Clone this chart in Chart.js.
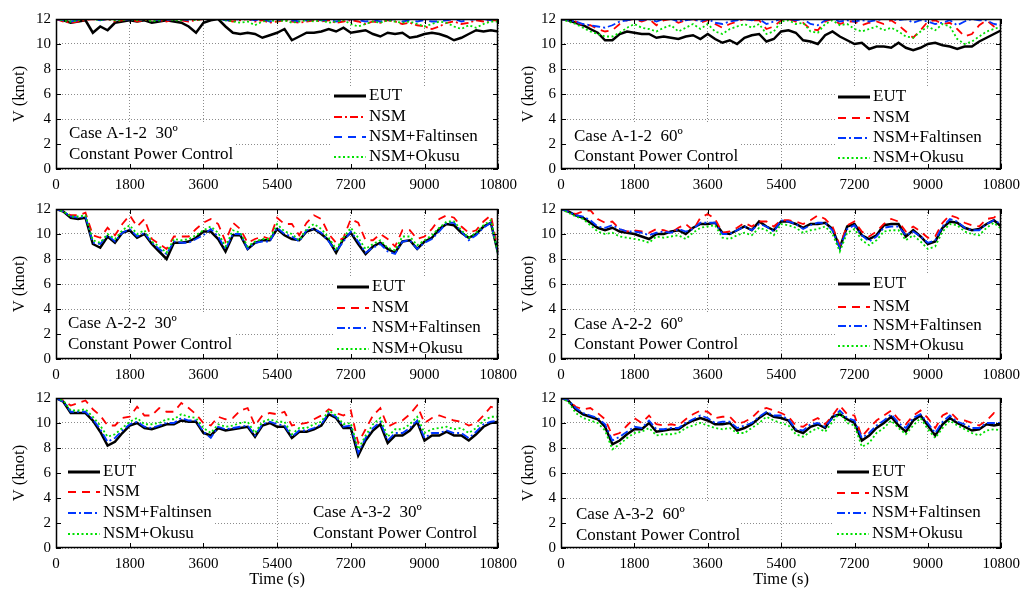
<!DOCTYPE html>
<html>
<head>
<meta charset="utf-8">
<script src="https://cdn.jsdelivr.net/npm/chart.js@4.4.0/dist/chart.umd.min.js"></script>
<style>
  body { margin: 0; background: #fff; }
  #wrap { position: relative; width: 1029px; height: 599px; overflow: hidden; background: #fff; }
  canvas { position: absolute; }
</style>
</head>
<body>
<div id="wrap">
  <canvas id="c1" width="524" height="199" style="left:0px;top:5px"></canvas>
  <canvas id="c2" width="518" height="199" style="left:509px;top:5px"></canvas>
  <canvas id="c3" width="524" height="199" style="left:0px;top:195px"></canvas>
  <canvas id="c4" width="518" height="199" style="left:509px;top:195px"></canvas>
  <canvas id="c5" width="524" height="216" style="left:0px;top:384px"></canvas>
  <canvas id="c6" width="518" height="216" style="left:509px;top:384px"></canvas>
</div>
<script>
// time grid (s)
var times = [0, 180, 360, 540, 720, 900, 1080, 1260, 1440, 1620, 1800,
  1980, 2160, 2340, 2520, 2700, 2880, 3060, 3240, 3420, 3600,
  3780, 3960, 4140, 4320, 4500, 4680, 4860, 5040, 5220, 5400,
  5580, 5760, 5940, 6120, 6300, 6480, 6660, 6840, 7020, 7200,
  7380, 7560, 7740, 7920, 8100, 8280, 8460, 8640, 8820, 9000,
  9180, 9360, 9540, 9720, 9900, 10080, 10260, 10440, 10620, 10800];
var xTicks = [0, 1800, 3600, 5400, 7200, 9000, 10800];
var yTicks = [0, 2, 4, 6, 8, 10, 12];
var seriesNames = ['EUT', 'NSM', 'NSM+Faltinsen', 'NSM+Okusu'];

// Case A-1-2 30
var eutA12_30 = [12.0, 11.9, 11.7, 11.8, 11.9, 10.9, 11.4, 11.1, 11.7, 11.8, 11.9,
  11.8, 11.9, 11.7, 11.8, 11.9, 11.8, 11.7, 11.4, 10.9, 11.7,
  11.9, 12.0, 11.4, 10.9, 10.8, 10.9, 10.8, 10.5, 10.7, 10.9,
  11.2, 10.3, 10.6, 10.9, 10.9, 11.0, 11.2, 11.0, 11.3, 10.9,
  11.0, 11.1, 10.8, 10.6, 10.9, 10.8, 10.9, 10.5, 10.6, 10.8,
  10.9, 10.8, 10.6, 10.3, 10.5, 10.8, 11.1, 11.0, 11.1, 11.0];
var nsmA12_30 = [12.0, 11.8, 11.7, 11.8, 11.9, 12.0, 11.9, 12.0, 11.8, 11.9, 12.0,
  11.8, 11.9, 12.0, 11.9, 11.8, 12.0, 11.9, 11.8, 11.9, 12.0,
  12.0, 12.1, 11.9, 11.8, 11.9, 12.0, 11.8, 11.9, 11.7, 11.8,
  11.9, 11.8, 11.7, 11.8, 11.9, 11.8, 11.9, 11.7, 11.8, 11.9,
  11.8, 11.6, 11.8, 11.7, 11.9, 11.8, 11.6, 11.7, 11.5, 11.4,
  11.2, 11.4, 11.7, 11.8, 11.6, 11.7, 11.9, 11.8, 11.9, 11.9];
var falA12_30 = [12.0, 11.9, 11.8, 11.9, 12.0, 12.0, 11.9, 12.0, 12.0, 11.9, 12.0,
  11.9, 12.0, 12.0, 11.9, 11.9, 12.0, 12.0, 11.9, 12.0, 12.0,
  12.0, 12.0, 11.9, 11.9, 12.0, 12.0, 11.9, 12.0, 11.8, 11.9,
  12.0, 11.9, 11.8, 11.9, 12.0, 11.9, 11.9, 11.8, 11.9, 12.0,
  11.9, 11.8, 11.9, 11.8, 11.9, 12.0, 11.8, 11.9, 11.8, 11.9,
  11.8, 11.8, 11.9, 12.0, 11.8, 11.9, 12.0, 12.0, 11.9, 12.0];
var okuA12_30 = [12.0, 11.9, 11.8, 11.9, 12.0, 12.0, 11.9, 12.0, 11.9, 11.9, 12.0,
  11.9, 12.0, 11.8, 11.9, 12.0, 11.9, 11.9, 12.0, 11.9, 12.0,
  12.0, 12.0, 11.9, 11.8, 11.7, 11.8, 11.5, 11.8, 11.9, 11.8,
  11.9, 11.7, 11.8, 11.9, 11.8, 11.9, 11.7, 11.8, 11.9, 11.6,
  11.4, 11.6, 11.8, 11.7, 11.9, 11.8, 11.7, 11.8, 11.6, 11.4,
  11.6, 11.8, 11.7, 11.4, 11.2, 11.5, 11.3, 11.6, 11.8, 11.8];

// Case A-1-2 60
var eutA12_60 = [12.0, 11.9, 11.7, 11.5, 11.2, 10.9, 10.3, 10.3, 10.8, 11.0, 10.9,
  10.8, 10.8, 10.5, 10.6, 10.5, 10.4, 10.6, 10.7, 10.4, 10.8,
  10.4, 10.1, 10.3, 10.0, 10.5, 10.7, 10.8, 10.2, 10.4, 11.0,
  11.1, 10.9, 10.3, 10.2, 10.0, 10.7, 11.0, 10.6, 10.3, 10.0,
  10.1, 9.6, 9.8, 9.8, 9.7, 10.1, 9.7, 9.5, 9.7, 10.0,
  10.1, 9.9, 9.8, 9.6, 9.8, 9.8, 10.2, 10.5, 10.8, 11.1];
var nsmA12_60 = [12.0, 11.9, 11.8, 11.5, 11.5, 11.2, 11.0, 11.1, 11.6, 11.9, 12.0,
  11.8, 12.0, 11.5, 11.9, 12.0, 11.7, 11.9, 12.0, 11.7, 11.9,
  11.6, 11.3, 11.6, 11.8, 12.0, 11.9, 11.9, 11.2, 11.4, 11.9,
  12.0, 11.8, 11.7, 11.2, 11.1, 11.8, 12.0, 11.6, 11.8, 11.8,
  11.5, 11.7, 11.8, 11.6, 11.9, 11.5, 11.0, 10.5, 11.1, 11.8,
  11.9, 11.6, 11.7, 11.2, 10.6, 10.8, 11.5, 11.9, 11.4, 11.6];
var falA12_60 = [12.0, 11.9, 11.8, 11.6, 11.5, 11.4, 11.3, 11.5, 11.8, 11.9, 12.0,
  11.9, 12.0, 11.8, 12.0, 12.0, 11.8, 11.9, 12.0, 11.8, 12.0,
  11.7, 11.6, 11.8, 11.9, 12.0, 11.9, 12.0, 11.6, 11.8, 12.0,
  12.0, 11.9, 12.0, 11.6, 11.5, 11.9, 12.0, 11.8, 11.9, 11.8,
  11.9, 11.8, 11.9, 12.0, 12.0, 11.9, 12.0, 11.7, 11.9, 11.8,
  11.6, 11.7, 11.9, 11.5, 11.8, 12.0, 11.9, 11.9, 11.6, 11.5];
var okuA12_60 = [12.0, 11.8, 11.6, 11.3, 11.0, 10.8, 10.6, 10.6, 10.9, 11.3, 11.6,
  11.3, 11.2, 11.0, 11.3, 11.5, 11.0, 11.3, 11.6, 11.2, 11.6,
  11.0, 10.8, 11.2, 11.4, 11.6, 11.3, 11.6, 10.8, 11.0, 11.8,
  11.9, 11.6, 11.7, 11.0, 10.9, 11.6, 11.9, 11.5, 11.6, 11.2,
  11.0, 11.2, 11.4, 11.1, 11.3, 11.0, 10.6, 10.5, 11.0, 11.4,
  11.1, 11.6, 11.4, 10.4, 10.0, 10.2, 10.6, 11.0, 11.2, 11.4];

// Case A-2-2 30
var eutA22_30 = [12.0, 11.8, 11.3, 11.2, 11.3, 9.2, 8.9, 9.8, 9.3, 10.1, 10.3,
  9.7, 10.0, 9.2, 8.6, 8.0, 9.3, 9.3, 9.4, 9.7, 10.2,
  10.2, 9.6, 8.6, 9.9, 9.9, 8.8, 9.3, 9.5, 9.5, 10.4,
  9.9, 9.6, 9.5, 10.2, 10.4, 10.0, 9.5, 8.5, 9.6, 10.1,
  9.2, 8.4, 9.0, 9.3, 8.8, 8.5, 9.4, 9.5, 8.8, 9.4,
  9.7, 10.4, 10.8, 10.7, 10.1, 9.7, 10.0, 10.6, 10.9, 8.4];
var nsmA22_30 = [12.0, 11.8, 11.5, 11.5, 11.7, 9.9, 9.7, 10.5, 9.9, 10.8, 11.5,
  10.6, 11.2, 9.6, 9.2, 8.8, 9.8, 9.8, 9.8, 10.4, 10.9,
  11.2, 10.8, 9.4, 10.9, 10.4, 9.3, 9.6, 9.8, 9.6, 11.3,
  10.8, 10.8, 9.9, 10.9, 11.5, 11.2, 10.0, 9.3, 9.7, 11.2,
  10.9, 9.5, 9.5, 10.0, 9.6, 9.0, 10.3, 10.3, 9.6, 9.8,
  10.4, 11.2, 11.5, 11.3, 10.6, 10.1, 10.3, 11.0, 11.5, 8.6];
var falA22_30 = [12.0, 11.8, 11.4, 11.3, 11.4, 9.3, 9.2, 9.9, 9.4, 10.1, 10.4,
  9.8, 10.1, 9.3, 8.8, 8.4, 9.4, 9.3, 9.3, 9.6, 9.9,
  10.4, 9.8, 8.8, 10.0, 10.0, 8.8, 9.3, 9.4, 9.4, 10.5,
  10.0, 9.8, 9.4, 10.3, 10.4, 10.1, 9.4, 8.6, 9.4, 10.2,
  9.4, 8.5, 8.9, 9.2, 8.6, 8.4, 9.4, 9.5, 8.8, 9.3,
  9.6, 10.2, 10.9, 10.9, 10.2, 9.5, 9.9, 10.5, 10.9, 8.4];
var okuA22_30 = [12.0, 11.8, 11.4, 11.4, 11.5, 9.5, 9.3, 10.0, 9.6, 10.3, 10.7,
  10.0, 10.3, 9.4, 9.0, 8.5, 9.6, 9.5, 9.6, 9.9, 10.3,
  10.6, 10.1, 9.0, 10.3, 10.1, 9.0, 9.4, 9.6, 9.6, 10.8,
  10.2, 10.0, 9.5, 10.4, 10.8, 10.4, 9.7, 8.8, 9.7, 10.5,
  9.7, 8.8, 9.2, 9.5, 8.9, 8.7, 9.8, 9.8, 9.1, 9.5,
  9.9, 10.5, 11.0, 11.0, 10.3, 9.7, 10.1, 10.7, 11.1, 8.3];

// Case A-2-2 60
var eutA22_60 = [12.0, 11.8, 11.5, 11.3, 10.9, 10.5, 10.3, 10.5, 10.2, 10.1, 10.0,
  9.8, 9.6, 10.0, 10.0, 10.2, 10.3, 10.0, 10.5, 10.8, 10.8,
  10.9, 10.1, 10.0, 10.3, 10.6, 10.3, 11.0, 10.6, 10.3, 11.0,
  11.0, 10.8, 10.5, 10.8, 10.8, 10.9, 10.4, 8.9, 10.6, 10.8,
  9.9, 9.6, 9.9, 10.7, 10.8, 10.8, 9.8, 10.3, 9.8, 9.2,
  9.4, 10.5, 11.0, 10.9, 10.5, 10.3, 10.4, 10.8, 11.1, 10.6];
var nsmA22_60 = [12.0, 11.9, 11.6, 11.8, 11.9, 11.2, 10.9, 11.0, 10.4, 10.2, 10.3,
  10.2, 10.1, 10.4, 10.3, 10.1, 10.5, 10.8, 10.3, 11.3, 11.6,
  11.2, 10.1, 10.2, 10.5, 10.9, 10.6, 11.0, 11.0, 10.6, 11.1,
  11.1, 11.0, 10.8, 11.1, 11.5, 11.2, 10.6, 9.1, 10.7, 11.0,
  10.2, 9.8, 10.2, 10.8, 11.2, 11.0, 10.2, 10.6, 10.2, 9.7,
  9.8, 10.9, 11.5, 11.3, 10.9, 10.7, 10.6, 11.2, 11.3, 11.8];
var falA22_60 = [12.0, 11.8, 11.5, 11.4, 11.1, 10.6, 10.5, 10.7, 10.4, 10.2, 10.2,
  10.1, 9.9, 10.1, 10.2, 10.1, 10.4, 10.2, 10.4, 10.9, 10.9,
  10.9, 10.0, 10.0, 10.3, 10.6, 10.3, 10.8, 10.6, 10.2, 11.1,
  11.0, 10.8, 10.4, 10.7, 10.9, 10.9, 10.3, 8.9, 10.4, 10.7,
  9.9, 9.4, 9.8, 10.5, 10.6, 10.6, 9.9, 10.2, 9.8, 9.3,
  9.5, 10.6, 11.2, 11.0, 10.5, 10.3, 10.3, 10.8, 11.1, 10.8];
var okuA22_60 = [12.0, 11.7, 11.4, 11.2, 10.7, 10.2, 10.0, 10.1, 9.8, 9.7, 9.6,
  9.5, 9.3, 9.8, 9.7, 9.8, 9.9, 9.6, 10.1, 10.5, 10.6,
  10.7, 9.7, 9.6, 9.9, 10.1, 9.9, 10.5, 10.3, 9.9, 10.8,
  10.7, 10.5, 10.1, 10.3, 10.4, 10.6, 10.0, 8.6, 10.1, 10.4,
  9.5, 9.1, 9.5, 10.2, 10.3, 10.3, 9.5, 9.9, 9.4, 8.8,
  9.0, 10.2, 10.8, 10.7, 10.2, 10.0, 9.9, 10.5, 10.9, 10.4];

// Case A-3-2 30
var eutA32_30 = [12.0, 11.7, 10.8, 10.8, 10.8, 10.2, 9.3, 8.2, 8.5, 9.2, 9.8,
  10.0, 9.6, 9.5, 9.7, 9.9, 9.9, 10.2, 10.1, 10.1, 9.2,
  9.0, 9.6, 9.4, 9.5, 9.6, 9.7, 8.9, 9.8, 10.0, 9.7,
  9.7, 8.8, 9.3, 9.3, 9.5, 9.8, 10.7, 10.4, 9.6, 9.6,
  7.4, 8.6, 9.4, 9.9, 8.4, 9.0, 9.0, 9.4, 10.1, 8.6,
  9.0, 9.0, 9.3, 9.0, 9.0, 8.6, 9.1, 9.7, 10.0, 10.1];
var nsmA32_30 = [12.0, 11.8, 11.4, 11.6, 11.8, 11.1, 10.6, 9.8, 9.8, 10.4, 10.5,
  11.3, 10.6, 10.6, 11.2, 10.9, 10.9, 11.6, 11.2, 10.7, 10.0,
  9.8, 10.5, 10.3, 10.4, 11.0, 11.2, 9.8, 10.6, 10.8, 10.7,
  10.9, 9.8, 9.9, 10.0, 10.3, 10.6, 11.1, 10.8, 10.6, 11.0,
  8.4, 9.5, 10.6, 11.2, 9.7, 10.0, 10.2, 10.7, 11.4, 10.0,
  10.4, 10.6, 10.4, 10.2, 10.1, 9.8, 10.0, 10.6, 11.3, 11.1];
var falA32_30 = [12.0, 11.7, 10.9, 10.9, 10.9, 10.3, 9.5, 8.5, 8.8, 9.4, 9.9,
  10.1, 9.7, 9.6, 9.8, 10.0, 10.0, 10.4, 10.2, 10.2, 9.3,
  8.8, 9.7, 9.5, 9.6, 9.7, 9.8, 9.0, 9.9, 10.1, 9.9,
  9.8, 8.9, 9.4, 9.4, 9.6, 9.9, 10.8, 10.5, 9.7, 9.8,
  7.6, 8.8, 9.6, 10.1, 8.6, 9.2, 9.2, 9.6, 10.2, 8.8,
  9.2, 9.2, 9.4, 9.2, 9.2, 8.8, 9.3, 9.9, 10.1, 10.2];
var okuA32_30 = [12.0, 11.8, 11.0, 11.0, 11.1, 10.5, 9.8, 8.9, 9.1, 9.6, 10.1,
  10.4, 9.9, 9.9, 10.0, 10.3, 10.3, 10.7, 10.5, 10.4, 9.6,
  9.2, 9.9, 9.7, 9.8, 10.0, 10.1, 9.2, 10.1, 10.3, 10.1,
  10.1, 9.1, 9.6, 9.6, 9.9, 10.1, 11.0, 10.6, 9.9, 10.0,
  7.9, 9.0, 9.9, 10.4, 8.9, 9.5, 9.5, 9.9, 10.5, 9.2,
  9.5, 9.6, 9.7, 9.5, 9.6, 9.2, 9.6, 10.2, 10.5, 10.5];

// Case A-3-2 60
var eutA32_60 = [12.0, 11.8, 11.1, 10.7, 10.5, 10.3, 9.7, 8.3, 8.6, 9.1, 9.5,
  9.5, 10.0, 9.3, 9.4, 9.5, 9.5, 9.9, 10.2, 10.4, 10.2,
  9.9, 9.9, 10.0, 9.4, 9.6, 9.9, 10.4, 10.8, 10.5, 10.4,
  10.2, 9.4, 9.2, 9.7, 9.9, 9.6, 10.5, 10.7, 10.3, 10.0,
  8.6, 9.0, 9.6, 10.0, 10.5, 9.8, 9.3, 10.2, 10.6, 9.8,
  9.0, 9.9, 10.4, 10.0, 9.7, 9.4, 9.5, 9.9, 9.8, 9.9];
var nsmA32_60 = [12.0, 11.8, 11.3, 11.1, 11.2, 10.8, 10.3, 9.0, 9.2, 9.8, 10.4,
  10.0, 10.6, 9.9, 9.8, 9.9, 9.8, 10.3, 10.7, 11.0, 10.9,
  10.4, 10.5, 10.5, 9.9, 10.1, 10.4, 11.0, 11.2, 11.0, 10.8,
  10.5, 9.8, 9.7, 10.1, 10.4, 9.9, 10.6, 11.4, 10.7, 10.6,
  8.9, 9.6, 10.2, 10.6, 11.0, 10.3, 9.9, 10.6, 11.0, 10.4,
  9.6, 10.6, 10.9, 10.3, 10.2, 10.0, 9.8, 10.2, 10.8, 10.6];
var falA32_60 = [12.0, 11.8, 11.2, 10.8, 10.6, 10.4, 9.9, 8.6, 8.9, 9.3, 9.7,
  9.6, 10.2, 9.5, 9.5, 9.6, 9.6, 10.0, 10.3, 10.6, 10.4,
  10.0, 10.1, 10.1, 9.6, 9.8, 10.0, 10.5, 10.9, 10.6, 10.6,
  10.3, 9.5, 9.4, 9.9, 10.0, 9.7, 10.4, 11.0, 10.4, 10.2,
  8.8, 9.2, 9.8, 10.2, 10.7, 10.0, 9.6, 10.4, 10.7, 10.0,
  9.2, 10.1, 10.6, 10.1, 9.9, 9.6, 9.6, 10.0, 10.0, 10.0];
var okuA32_60 = [12.0, 11.7, 10.8, 10.4, 10.2, 10.0, 9.4, 7.9, 8.3, 8.8, 9.2,
  9.3, 9.6, 9.0, 9.1, 9.1, 9.2, 9.6, 9.8, 10.0, 9.8,
  9.6, 9.5, 9.6, 9.2, 9.2, 9.6, 10.0, 10.5, 10.2, 10.0,
  9.8, 9.1, 8.9, 9.3, 9.6, 9.3, 10.1, 10.8, 10.0, 9.8,
  8.1, 8.4, 9.2, 9.6, 10.2, 9.6, 9.1, 9.8, 10.4, 9.5,
  8.8, 9.6, 10.2, 9.8, 9.5, 9.2, 9.0, 9.4, 9.5, 9.4];

var serif = '"Liberation Serif", "Times New Roman", serif';
var tickFont = { family: serif, size: 15 };
var titleFont = { family: serif, size: 16.5 };
var textPx = 17;

var DASH = [8, 6], DASHDOT = [8, 3, 2, 3], DOT = [2, 2.5];

// white boxes behind legend / case text, frame with inward ticks, legend
var decor = {
  id: 'decor',
  beforeDatasetsDraw: function (chart, args, o) {
    var a = chart.chartArea, ctx = chart.ctx;
    ctx.save();
    ctx.fillStyle = '#fff';
    o.boxes.forEach(function (b) {
      var x0 = a.left + b[0] + 1, y0 = a.top + b[1];
      var x1 = b[2] == null ? a.right - 1 : a.left + b[2];
      ctx.fillRect(x0, y0, x1 - x0, a.bottom - 1 - y0);
    });
    ctx.restore();
  },
  afterDraw: function (chart, args, o) {
    var a = chart.chartArea, ctx = chart.ctx;
    var xs = chart.scales.x, ys = chart.scales.y;
    var L = Math.round(a.left), T = Math.round(a.top), R = Math.round(a.right), B = Math.round(a.bottom);
    ctx.save();
    ctx.strokeStyle = '#000';
    ctx.lineWidth = 1.5;
    ctx.strokeRect(L + 0.5, T + 0.5, R - L - 1, B - T - 1);
    ctx.lineWidth = 1;
    ctx.beginPath();
    xTicks.forEach(function (v) {
      var px = Math.round(xs.getPixelForValue(v)) + 0.5;
      ctx.moveTo(px, B); ctx.lineTo(px, B - 5);
      ctx.moveTo(px, T); ctx.lineTo(px, T + 5);
    });
    yTicks.forEach(function (v) {
      var py = Math.round(ys.getPixelForValue(v)) + 0.5;
      ctx.moveTo(L, py); ctx.lineTo(L + 5, py);
      ctx.moveTo(R, py); ctx.lineTo(R - 5, py);
    });
    ctx.stroke();

    ctx.font = textPx + 'px ' + serif;
    ctx.textBaseline = 'middle';
    ctx.fillStyle = '#000';
    chart.data.datasets.forEach(function (ds, i) {
      var y = a.top + o.rows[i];
      var x = a.left + o.lx;
      ctx.save();
      ctx.strokeStyle = ds.borderColor;
      ctx.lineWidth = i === 0 ? 3 : 2.2;
      ctx.setLineDash(ds.borderDash || []);
      ctx.beginPath();
      ctx.moveTo(x, y);
      ctx.lineTo(x + 32, y);
      ctx.stroke();
      ctx.restore();
      ctx.fillText(ds.label, x + 35, y);
    });
    o.caseLines.forEach(function (s, i) {
      ctx.fillText(s, a.left + o.cx, a.top + o.cy[i]);
    });
    ctx.restore();
  }
};

function makeChart(id, series, styles, opt) {
  var colors = ['#000000', '#ff0000', '#0036ff', '#00e000'];
  var datasets = series.map(function (vals, k) {
    return {
      label: seriesNames[k],
      data: vals.map(function (v, i) { return { x: times[i], y: v }; }),
      borderColor: colors[k],
      borderWidth: k === 0 ? 2.5 : 1.8,
      borderDash: styles[k],
      pointRadius: 0,
      tension: 0,
      fill: false,
      order: 4 - k
    };
  });
  new Chart(document.getElementById(id), {
    type: 'line',
    data: { datasets: datasets },
    plugins: [decor],
    options: {
      responsive: false,
      animation: false,
      devicePixelRatio: 1,
      layout: { padding: { top: 10, right: 25, bottom: opt.bottom ? 2 : 5, left: 0 } },
      plugins: {
        legend: { display: false },
        tooltip: { enabled: false },
        decor: opt.decor
      },
      scales: {
        x: {
          type: 'linear', min: 0, max: 10800,
          afterBuildTicks: function (s) { s.ticks = xTicks.map(function (v) { return { value: v }; }); },
          afterFit: function (s) { s.height = opt.bottom ? 50 : 30; },
          grid: { color: '#8c8c8c', lineWidth: 1, drawTicks: false },
          border: { display: false, dash: [1, 2] },
          ticks: { color: '#000', font: tickFont, padding: 7, maxRotation: 0, autoSkip: false,
            callback: function (v) { return String(v); } },
          title: { display: !!opt.bottom, text: 'Time (s)', color: '#000', font: titleFont,
            padding: { top: 0, bottom: 8 } }
        },
        y: {
          min: 0, max: 12,
          afterBuildTicks: function (s) { s.ticks = yTicks.map(function (v) { return { value: v }; }); },
          afterFit: function (s) { s.width = opt.yWidth; },
          grid: { color: '#8c8c8c', lineWidth: 1, drawTicks: false },
          border: { display: false, dash: [1, 2] },
          ticks: { color: '#000', font: tickFont, padding: 5,
            callback: function (v) { return String(v); } },
          title: { display: true, text: 'V (knot)', color: '#000', font: titleFont,
            padding: { top: 10, bottom: 0 } }
        }
      }
    }
  });
}

makeChart('c1', [eutA12_30, nsmA12_30, falA12_30, okuA12_30], [[], DASHDOT, DASH, DOT], {
  yWidth: 56,
  decor: { lx: 278, rows: [77, 98, 118, 138], cx: 13, cy: [115, 136],
    caseLines: ['Case A-1-2  30º', 'Constant Power Control'],
    boxes: [[274, 67, null], [0, 103, 180]] }
});
makeChart('c2', [eutA12_60, nsmA12_60, falA12_60, okuA12_60], [[], DASH, DASHDOT, DOT], {
  yWidth: 52,
  decor: { lx: 277, rows: [78, 99, 119, 139], cx: 13, cy: [118, 138],
    caseLines: ['Case A-1-2  60º', 'Constant Power Control'],
    boxes: [[273, 67, null], [0, 105, 180]] }
});
makeChart('c3', [eutA22_30, nsmA22_30, falA22_30, okuA22_30], [[], DASH, DASHDOT, DOT], {
  yWidth: 56,
  decor: { lx: 281, rows: [78, 99, 119, 140], cx: 12, cy: [115, 136],
    caseLines: ['Case A-2-2  30º', 'Constant Power Control'],
    boxes: [[278, 67, null], [0, 103, 180]] }
});
makeChart('c4', [eutA22_60, nsmA22_60, falA22_60, okuA22_60], [[], DASH, DASHDOT, DOT], {
  yWidth: 52,
  decor: { lx: 277, rows: [75, 98, 117, 137], cx: 13, cy: [116, 136],
    caseLines: ['Case A-2-2  60º', 'Constant Power Control'],
    boxes: [[273, 65, null], [0, 104, 180]] }
});
makeChart('c5', [eutA32_30, nsmA32_30, falA32_30, okuA32_30], [[], DASH, DASHDOT, DOT], {
  yWidth: 56, bottom: true,
  decor: { lx: 12, rows: [74, 94, 115, 136], cx: 257, cy: [115, 136],
    caseLines: ['Case A-3-2  30º', 'Constant Power Control'],
    boxes: [[0, 63, 157], [252, 102, null]] }
});
makeChart('c6', [eutA32_60, nsmA32_60, falA32_60, okuA32_60], [[], DASH, DASHDOT, DOT], {
  yWidth: 52, bottom: true,
  decor: { lx: 276, rows: [74, 95, 115, 136], cx: 15, cy: [117, 138],
    caseLines: ['Case A-3-2  60º', 'Constant Power Control'],
    boxes: [[272, 63, null], [0, 105, 180]] }
});
</script>
</body>
</html>
